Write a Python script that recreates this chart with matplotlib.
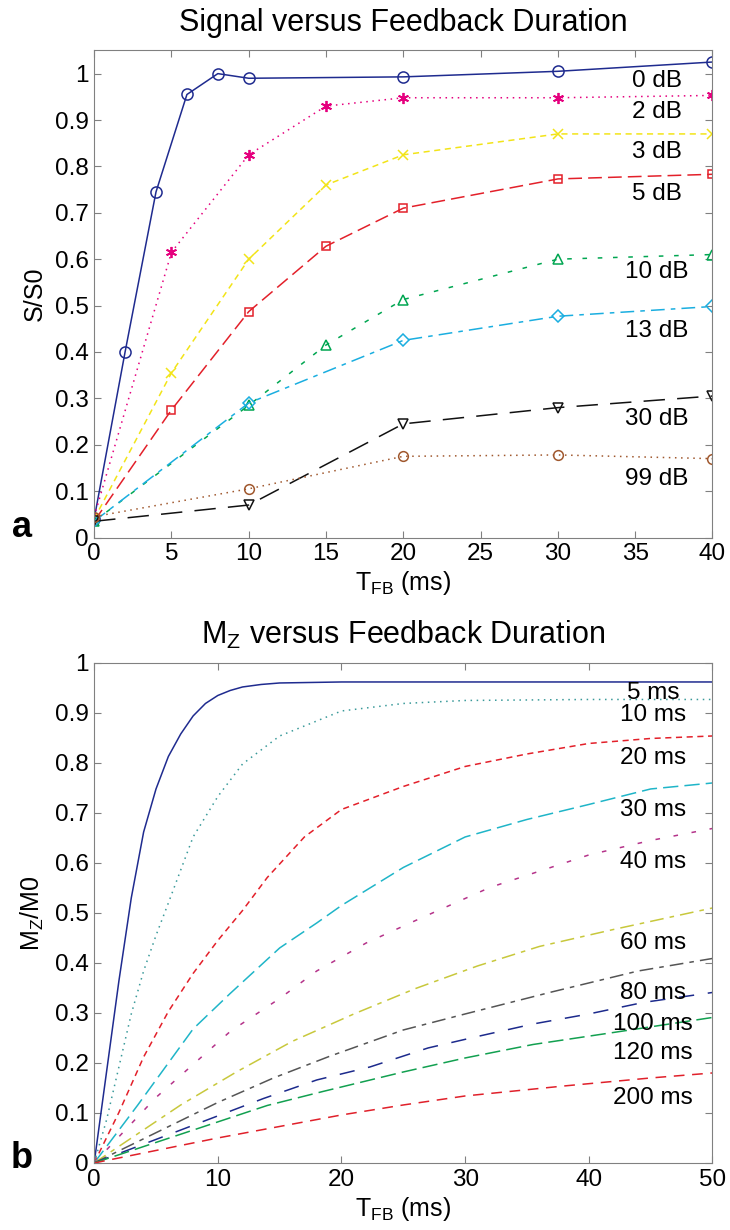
import matplotlib
matplotlib.use("Agg")
import matplotlib.pyplot as plt

plt.rcParams['font.family'] = ['Liberation Sans', 'DejaVu Sans']
plt.rcParams['mathtext.fontset'] = 'custom'
plt.rcParams['mathtext.rm'] = 'Liberation Sans'
plt.rcParams['mathtext.it'] = 'Liberation Sans:italic'

# ---- panel a : signal vs feedback duration ----
snr_labels = ['0 dB', '2 dB', '3 dB', '5 dB', '10 dB', '13 dB', '30 dB', '99 dB']
t_0db = [0, 2, 4, 6, 8, 10, 20, 30, 40]
s_0db = [0.04, 0.40, 0.745, 0.955, 1.0, 0.99, 0.993, 1.005, 1.025]
t_2db = [0, 5, 10, 15, 20, 30, 40]
s_2db = [0.045, 0.615, 0.825, 0.93, 0.948, 0.948, 0.953]
t_3db = [0, 5, 10, 15, 20, 30, 40]
s_3db = [0.04, 0.355, 0.60, 0.76, 0.825, 0.87, 0.87]
t_5db = [0, 5, 10, 15, 20, 30, 40]
s_5db = [0.035, 0.275, 0.487, 0.628, 0.71, 0.773, 0.783]
t_10db = [0, 10, 15, 20, 30, 40]
s_10db = [0.035, 0.285, 0.415, 0.513, 0.60, 0.61]
t_13db = [0, 10, 20, 30, 40]
s_13db = [0.035, 0.29, 0.425, 0.477, 0.498]
t_30db = [0, 10, 20, 30, 40]
s_30db = [0.035, 0.07, 0.245, 0.28, 0.305]
t_99db = [0, 10, 20, 30, 40]
s_99db = [0.045, 0.105, 0.175, 0.178, 0.17]
snr_label_y = [0.985, 0.918, 0.832, 0.741, 0.572, 0.445, 0.255, 0.127]

# ---- panel b : Mz vs feedback duration ----
t1_labels = ['5 ms', '10 ms', '20 ms', '30 ms', '40 ms', '60 ms', '80 ms', '100 ms', '120 ms', '200 ms']
t_5ms = [0, 1, 2, 3, 4, 5, 6, 7, 8, 9, 10, 11, 12, 13.5, 15, 20, 30, 50]
m_5ms = [0, 0.182, 0.364, 0.53, 0.662, 0.748, 0.813, 0.858, 0.894, 0.919, 0.935,
         0.945, 0.952, 0.957, 0.96, 0.962, 0.962, 0.962]
t_10ms = [0, 1, 2, 3, 4, 5, 6, 8, 10, 12, 15, 20, 25, 30, 40, 50]
m_10ms = [0, 0.086, 0.192, 0.298, 0.384, 0.455, 0.52, 0.652, 0.733, 0.798, 0.854,
          0.904, 0.919, 0.925, 0.927, 0.927]
t_20ms = [0, 2, 4, 6, 8, 10, 12, 14, 17, 20, 25, 30, 35, 40, 45, 50]
m_20ms = [0, 0.101, 0.212, 0.303, 0.379, 0.445, 0.505, 0.571, 0.652, 0.707, 0.753,
          0.793, 0.818, 0.839, 0.849, 0.854]
t_30ms = [0, 3.5, 8, 11, 15, 18, 20, 25, 30, 35, 40, 45, 50]
m_30ms = [0, 0.115, 0.268, 0.339, 0.43, 0.48, 0.515, 0.591, 0.652, 0.687, 0.717, 0.748, 0.76]
t_40ms = [0, 5, 8, 11, 15, 18, 22, 26, 32, 40, 45, 50]
m_40ms = [0, 0.131, 0.197, 0.263, 0.329, 0.384, 0.44, 0.485, 0.551, 0.616, 0.645, 0.669]
t_60ms = [0, 7, 11.5, 16, 21, 26, 31, 36, 42, 50]
m_60ms = [0, 0.116, 0.182, 0.243, 0.298, 0.349, 0.394, 0.433, 0.467, 0.51]
t_80ms = [0, 10, 14.5, 19, 25, 30, 37, 44, 50]
m_80ms = [0, 0.121, 0.17, 0.213, 0.266, 0.298, 0.342, 0.384, 0.409]
t_100ms = [0, 13.7, 18, 22.3, 27, 31, 35.5, 40, 44.4, 50]
m_100ms = [0, 0.129, 0.166, 0.192, 0.23, 0.253, 0.278, 0.298, 0.321, 0.341]
t_120ms = [0, 14, 18.5, 25, 30, 35.5, 42, 50]
m_120ms = [0, 0.115, 0.143, 0.182, 0.21, 0.237, 0.261, 0.291]
t_200ms = [0, 10, 20, 25, 30, 38, 45, 50]
m_200ms = [0, 0.05, 0.096, 0.116, 0.134, 0.154, 0.17, 0.18]
t1_label_y = [0.94, 0.895, 0.81, 0.706, 0.601, 0.44, 0.34, 0.278, 0.22, 0.13]

yticks = [0, 0.1, 0.2, 0.3, 0.4, 0.5, 0.6, 0.7, 0.8, 0.9, 1]
ytick_labels = ['0', '0.1', '0.2', '0.3', '0.4', '0.5', '0.6', '0.7', '0.8', '0.9', '1']

fig = plt.figure(figsize=(7.3, 12.3), dpi=100)

# styles (color, linestyle, marker) - asterisk drawn as 6 lines like matlab '*'
asterisk = (6, 2, 0)
top_styles = [
    ('#1f2b8f', '-', 'o'),
    ('#e5007e', (0, (1, 3)), asterisk),
    ('#f2e418', (0, (4, 3)), 'x'),
    ('#e3202a', (0, (9, 4)), 's'),
    ('#00a651', (0, (3, 7)), '^'),
    ('#1aaee0', (0, (9, 4, 3, 4)), 'D'),
    ('#111111', (0, (14, 8)), 'v'),
    ('#a0582e', (0, (1, 3)), 'o'),
]
top_t = [t_0db, t_2db, t_3db, t_5db, t_10db, t_13db, t_30db, t_99db]
top_s = [s_0db, s_2db, s_3db, s_5db, s_10db, s_13db, s_30db, s_99db]
msizes = [8, 8, 7, 6, 7, 6, 7, 7]

ax1 = fig.add_axes([0.129, 0.563, 0.847, 0.396])
for (c, ls, mk), t, s, ms in zip(top_styles, top_t, top_s, msizes):
    ax1.plot(t, s, color=c, linestyle=ls, linewidth=1.1, marker=mk, markersize=ms,
             markerfacecolor='none', markeredgecolor=c,
             markeredgewidth=1.3 if mk == asterisk else 1.1)
for lab, ly in zip(snr_labels, snr_label_y):
    ax1.text(36.4, ly, lab, fontsize=17.5, ha='center', va='center')
ax1.set_xlim(0, 40)
ax1.set_ylim(0, 1.05)
ax1.set_xticks(range(0, 41, 5))
ax1.set_yticks(yticks)
ax1.set_yticklabels(ytick_labels)
ax1.set_title('Signal versus Feedback Duration', fontsize=22, pad=14)
ax1.set_xlabel(r'T$_\mathrm{FB}$ (ms)', fontsize=18, labelpad=3)
ax1.set_ylabel('S/S0', fontsize=18, labelpad=6)
fig.text(0.03, 0.571, 'a', fontsize=26, fontweight='bold', ha='center', va='center')

bot_styles = [
    ('#1f2b8f', '-'),
    ('#3a9a9a', (0, (1, 3))),
    ('#e3202a', (0, (4, 3))),
    ('#1fb5c8', (0, (10, 4))),
    ('#b5338a', (0, (3, 9))),
    ('#c8c83c', (0, (9, 4, 3, 4))),
    ('#555555', (0, (9, 4, 3, 4))),
    ('#1c2a8c', (0, (10, 9))),
    ('#12a050', (0, (10, 4))),
    ('#e0202a', (0, (7, 5))),
]
bot_t = [t_5ms, t_10ms, t_20ms, t_30ms, t_40ms, t_60ms, t_80ms, t_100ms, t_120ms, t_200ms]
bot_m = [m_5ms, m_10ms, m_20ms, m_30ms, m_40ms, m_60ms, m_80ms, m_100ms, m_120ms, m_200ms]

ax2 = fig.add_axes([0.129, 0.0545, 0.847, 0.4065])
for (c, ls), t, m in zip(bot_styles, bot_t, bot_m):
    ax2.plot(t, m, color=c, linestyle=ls, linewidth=1.1)
for lab, ly in zip(t1_labels, t1_label_y):
    ax2.text(45.2, ly, lab, fontsize=17.5, ha='center', va='center')
ax2.set_xlim(0, 50)
ax2.set_ylim(0, 1)
ax2.set_xticks(range(0, 51, 10))
ax2.set_yticks(yticks)
ax2.set_yticklabels(ytick_labels)
ax2.set_title(r'M$_\mathrm{Z}$ versus Feedback Duration', fontsize=22, pad=14)
ax2.set_xlabel(r'T$_\mathrm{FB}$ (ms)', fontsize=18, labelpad=3)
ax2.set_ylabel(r'M$_\mathrm{Z}$/M0', fontsize=18, labelpad=6)
fig.text(0.03, 0.058, 'b', fontsize=26, fontweight='bold', ha='center', va='center')

for ax in (ax1, ax2):
    for sp in ax.spines.values():
        sp.set_color('#808080')
    ax.tick_params(direction='in', length=5, labelsize=17.5, top=True, right=True,
                   color='#808080', pad=4)

fig.savefig('out.png', dpi=100)
